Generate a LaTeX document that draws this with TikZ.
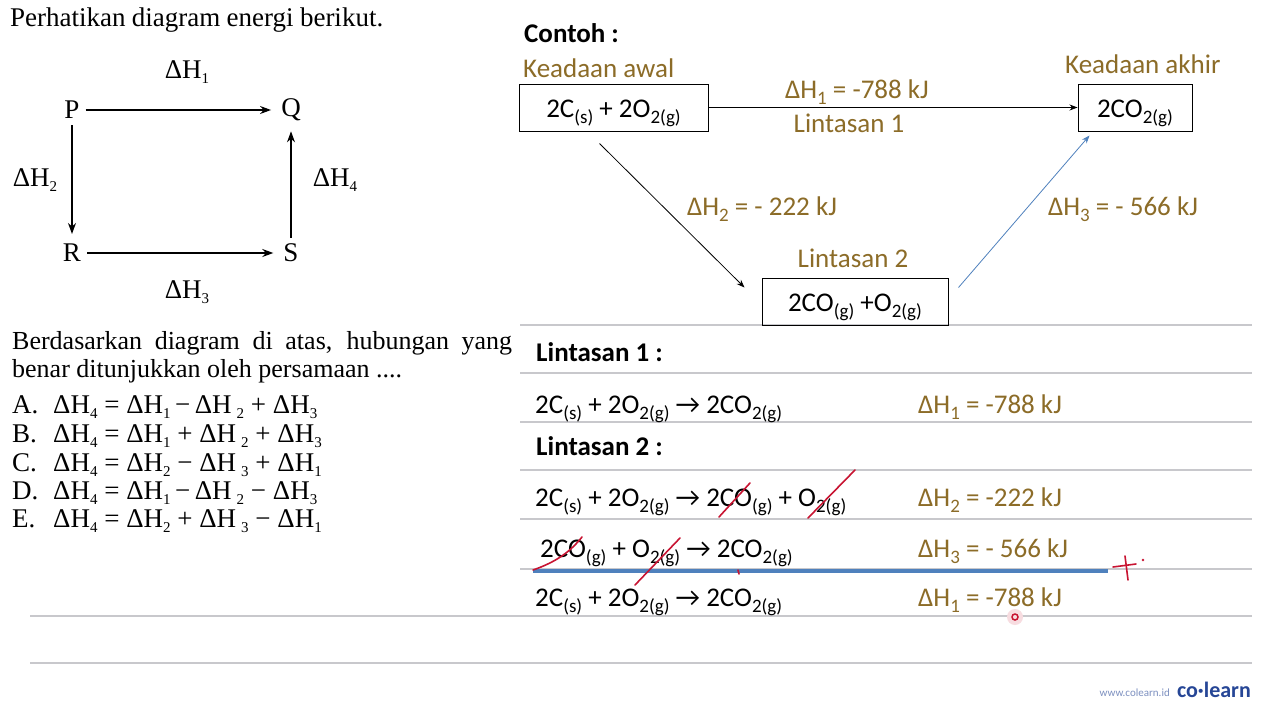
\documentclass[tikz,border=0pt]{standalone}
\usepackage{fontspec}
\setmainfont{Carlito}
\newfontfamily\soalfont{Liberation Serif}
\usetikzlibrary{arrows.meta, positioning}

\definecolor{keybrown}{RGB}{140, 108, 40}
\definecolor{pathblue}{RGB}{79, 129, 189}
\definecolor{rulegray}{RGB}{200, 200, 204}
\definecolor{penred}{RGB}{200, 20, 50}
\definecolor{logoblue}{RGB}{38, 70, 150}

\newcommand{\fs}[1]{\fontsize{#1}{#1}\selectfont}
\newcommand{\chs}[1]{\raisebox{-6pt}{\fs{19}#1}}
\newcommand{\sH}[1]{\raisebox{-5pt}{\fs{15}#1}}

\tikzset{
  soal/.style={font=\soalfont\fs{27}, inner sep=0pt},
  cycnode/.style={font=\soalfont\fs{27}, inner sep=6pt},
  cycarrow/.style={-{Stealth[length=11pt, width=8pt]}, line width=1.3pt, shorten >=4pt},
  chem/.style={font=\fs{27}, inner sep=0pt, anchor=base west},
  dhtext/.style={font=\fs{27}, text=keybrown, inner sep=0pt, anchor=base},
  statebox/.style={draw, line width=1pt, font=\fs{27}, text height=27pt, text depth=8pt, inner sep=4pt},
  flow/.style={-{Stealth[length=8pt, width=6pt]}, line width=0.8pt},
  rule/.style={rulegray, line width=1.2pt},
  penmark/.style={penred, line width=1.6pt, line cap=round}
}

\begin{document}
\begin{tikzpicture}[x=1pt, y=-1pt]
  \useasboundingbox[fill=white] (0,0) rectangle (1280,720);

  % soal: siklus P Q R S
  \node[soal, anchor=base west] (judul) at (10,27) {\makebox[373pt][s]{Perhatikan diagram energi berikut.}};
  \node[cycnode] (P) at (72,110) {P};
  \node[cycnode] (Q) at (291,110) {Q};
  \node[cycnode] (R) at (72,253) {R};
  \node[cycnode] (S) at (291,253) {S};
  \draw[cycarrow] (P) -- (Q);
  \draw[cycarrow] (P) -- (R);
  \draw[cycarrow] (R) -- (S);
  \draw[cycarrow] (S) -- (Q);
  \node[soal] (dh1) at (187,72) {ΔH\sH{1}};
  \node[soal] (dh2) at (35,180) {ΔH\sH{2}};
  \node[soal] (dh3) at (187,292) {ΔH\sH{3}};
  \node[soal] (dh4) at (335,180) {ΔH\sH{4}};

  % pertanyaan dan pilihan
  \node[soal, anchor=base west, font=\soalfont\fs{26}] (tanya1) at (12,349) {\makebox[500pt][s]{Berdasarkan diagram di atas, hubungan yang}};
  \node[soal, anchor=base west, font=\soalfont\fs{26}] (tanya2) at (12,377) {benar ditunjukkan oleh persamaan ....};
  \node[soal, anchor=base west] (optA) at (12,413) {\makebox[41pt][l]{A.}ΔH\sH{4} = ΔH\sH{1}\,−\,ΔH\hspace{5pt}\sH{2} + ΔH\sH{3}};
  \node[soal, anchor=base west] (optB) at (12,442) {\makebox[41pt][l]{B.}ΔH\sH{4} = ΔH\sH{1} + ΔH\hspace{5pt}\sH{2} + ΔH\sH{3}};
  \node[soal, anchor=base west] (optC) at (12,471) {\makebox[41pt][l]{C.}ΔH\sH{4} = ΔH\sH{2} − ΔH\hspace{5pt}\sH{3} + ΔH\sH{1}};
  \node[soal, anchor=base west] (optD) at (12,499) {\makebox[41pt][l]{D.}ΔH\sH{4} = ΔH\sH{1}\,−\,ΔH\hspace{5pt}\sH{2} − ΔH\sH{3}};
  \node[soal, anchor=base west] (optE) at (12,527) {\makebox[41pt][l]{E.}ΔH\sH{4} = ΔH\sH{2} + ΔH\hspace{5pt}\sH{3} − ΔH\sH{1}};

  % garis buku
  \draw[rule] (520,325) -- (1252,325);
  \draw[rule] (520,373) -- (1252,373);
  \draw[rule] (520,422) -- (1252,422);
  \draw[rule] (520,470) -- (1252,470);
  \draw[rule] (520,519) -- (1252,519);
  \draw[rule] (520,569) -- (1252,569);
  \draw[rule] (30,616) -- (1252,616);
  \draw[rule] (30,663) -- (1252,663);
  \draw[pathblue, line width=3.5pt] (533,571) -- (1108,571);

  % contoh: diagram lintasan
  \node[font=\bfseries\fs{27}, inner sep=0pt, anchor=base west] (contoh) at (524,42) {Contoh :};
  \node[dhtext, anchor=base west] (awal) at (523,77) {Keadaan awal};
  \node[dhtext, anchor=base west] (akhir) at (1065,73) {Keadaan akhir};
  \node[statebox, minimum width=189pt, minimum height=47pt] (awalbox) at (613.5,107.5) {2C\chs{(s)} + 2O\chs{2(g)}};
  \node[statebox, minimum width=114pt, minimum height=47pt] (akhirbox) at (1135,107.5) {2CO\chs{2(g)}};
  \node[statebox, minimum width=186pt, minimum height=47pt] (antarabox) at (855,301.5) {2CO\chs{(g)} +O\chs{2(g)}};
  \draw[flow] (awalbox) -- (akhirbox);
  \draw[flow] ([shift={(-14,12)}]awalbox.south) -- ([shift={(-17,-14)}]antarabox.west);
  \draw[flow, pathblue] ([shift={(10,-14)}]antarabox.east) -- ([shift={(12,4)}]akhirbox.south west);
  \node[dhtext] (h1atas) at (857,98) {ΔH\chs{1} = -788 kJ};
  \node[dhtext] (lin1) at (849,132) {Lintasan 1};
  \node[dhtext] (h2atas) at (762,215) {ΔH\chs{2} = - 222 kJ};
  \node[dhtext] (lin2) at (853,267) {Lintasan 2};
  \node[dhtext] (h3atas) at (1123,215) {ΔH\chs{3} = - 566 kJ};

  % persamaan lintasan
  \node[font=\bfseries\fs{27}, inner sep=0pt, anchor=base west] (judul1) at (536,361) {Lintasan 1 :};
  \node[chem] (eq1) at (535,413) {2C\chs{(s)} + 2O\chs{2(g)} → 2CO\chs{2(g)}};
  \node[dhtext, anchor=base west] (h1) at (918,413) {ΔH\chs{1} = -788 kJ};
  \node[font=\bfseries\fs{27}, inner sep=0pt, anchor=base west] (judul2) at (536,455) {Lintasan 2 :};
  \node[chem] (eq2) at (535,506) {2C\chs{(s)} + 2O\chs{2(g)} → 2CO\chs{(g)} + O\chs{2(g)}};
  \node[dhtext, anchor=base west] (h2) at (918,506) {ΔH\chs{2} = -222 kJ};
  \node[chem] (eq3) at (540,557) {2CO\chs{(g)} + O\chs{2(g)} → 2CO\chs{2(g)}};
  \node[dhtext, anchor=base west] (h3) at (918,557) {ΔH\chs{3} = - 566 kJ};
  \node[chem] (eq4) at (535,606) {2C\chs{(s)} + 2O\chs{2(g)} → 2CO\chs{2(g)}};
  \node[dhtext, anchor=base west] (h4) at (918,606) {ΔH\chs{1} = -788 kJ};

  % coretan pena
  \draw[penmark] (719,517) -- (750,483);
  \draw[penmark] (808,518) -- (855,470);
  \draw[penmark] (533,570) .. controls (556,562) and (570,552) .. (582,537);
  \draw[penmark] (635,585) -- (680,538);
  \draw[penmark] (738,570) -- (739,574);
  \draw[penmark] (1113,567) -- (1136,564);
  \draw[penmark] (1125,556) -- (1128,580);
  \fill[penred] (1143,560) circle (1.3);
  \fill[penred!15] (1015,617) circle (8);
  \draw[penred, line width=1.5pt] (1015,617) circle (3);

  % logo
  \node[font=\fs{11}, text=logoblue!60, inner sep=0pt, anchor=base east] (web) at (1170,696) {www.colearn.id};
  \node[font=\bfseries\fs{22}, text=logoblue, inner sep=0pt, anchor=base east] (logo) at (1251,697) {co·learn};
\end{tikzpicture}
\end{document}
